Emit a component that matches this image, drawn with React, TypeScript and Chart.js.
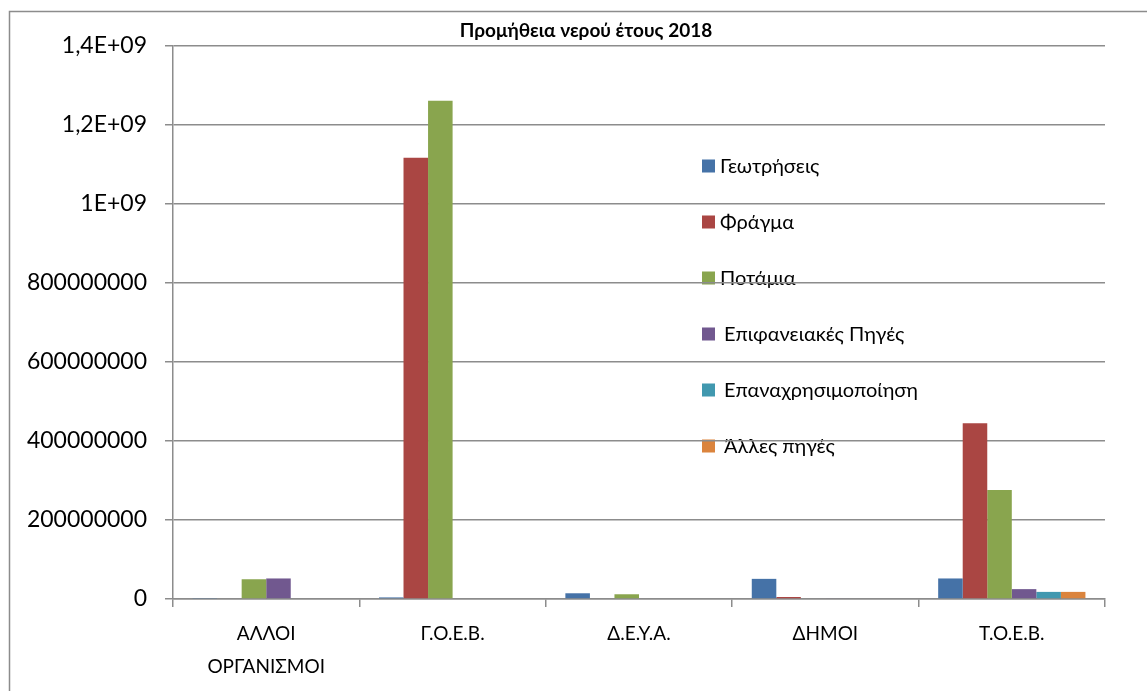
import React, { useEffect, useRef } from "react";
import { Chart, registerables } from "chart.js";

Chart.register(...registerables);

const title = "Προμήθεια νερού έτους 2018";
const categories: (string | string[])[] = [
  ["ΑΛΛΟΙ", "ΟΡΓΑΝΙΣΜΟΙ"],
  "Γ.Ο.Ε.Β.",
  "Δ.Ε.Υ.Α.",
  "ΔΗΜΟΙ",
  "Τ.Ο.Ε.Β.",
];
const seriesNames = [
  "Γεωτρήσεις",
  "Φράγμα",
  "Ποτάμια",
  "Επιφανειακές Πηγές",
  "Επαναχρησιμοποίηση",
  "Άλλες πηγές",
];
const seriesColors = ["#4572A7", "#AA4643", "#89A54E", "#71588F", "#4198AF", "#DB843D"];

const geotriseis = [2500000, 4000000, 14500000, 51000000, 52000000];
const fragma = [0, 1117000000, 0, 5000000, 445000000];
const potamia = [50000000, 1261500000, 12000000, 0, 276000000];
const epifaneiakes = [52000000, 0, 0, 2000000, 25000000];
const epanaxrisi = [0, 0, 0, 0, 18000000];
const alles = [0, 0, 0, 0, 18000000];
const seriesValues = [geotriseis, fragma, potamia, epifaneiakes, epanaxrisi, alles];

const yTickValues = [0, 200000000, 400000000, 600000000, 800000000, 1000000000, 1200000000, 1400000000];
const yTickLabels = ["0", "200000000", "400000000", "600000000", "800000000", "1E+09", "1,2E+09", "1,4E+09"];

const FONT = "Lato, 'Noto Sans', sans-serif";
const GRID = "#8c8c8c";

const decorPlugin = {
  id: "decor",
  beforeDraw(chart: any) {
    const ctx = chart.ctx as CanvasRenderingContext2D;
    ctx.save();
    // outer frame
    ctx.strokeStyle = GRID;
    ctx.lineWidth = 1.5;
    ctx.strokeRect(9.5, 11.5, 1200, 800);
    // title
    ctx.fillStyle = "#000";
    ctx.font = `bold 19px ${FONT}`;
    ctx.textAlign = "center";
    ctx.textBaseline = "alphabetic";
    ctx.fillText(title, 586, 36.5);
    // legend
    const ds = chart.data.datasets;
    ctx.font = `20px ${FONT}`;
    ctx.textAlign = "left";
    ctx.textBaseline = "middle";
    for (let i = 0; i < ds.length; i++) {
      const cy = 166 + i * 56;
      ctx.fillStyle = ds[i].backgroundColor;
      ctx.fillRect(702, cy - 6.5, 13, 13);
      ctx.fillStyle = "#000";
      ctx.fillText(ds[i].label, i < 3 ? 720 : 724, cy + 1);
    }
    ctx.restore();
  },
};

export default function App() {
  const ref = useRef<HTMLCanvasElement | null>(null);
  useEffect(() => {
    if (!ref.current) return;
    const chart = new Chart(ref.current, {
      type: "bar",
      data: {
        labels: categories,
        datasets: seriesNames.map((name, i) => ({
          label: name,
          data: seriesValues[i],
          backgroundColor: seriesColors[i],
          borderWidth: 0,
          categoryPercentage: 0.79,
          barPercentage: 1,
        })),
      },
      options: {
        animation: false,
        responsive: false,
        devicePixelRatio: 1,
        layout: { padding: { top: 46, right: 42, left: 0, bottom: 0 } },
        plugins: {
          legend: { display: false },
          title: { display: false },
          tooltip: { enabled: false },
        },
        scales: {
          x: {
            grid: {
              display: true,
              drawOnChartArea: false,
              drawTicks: true,
              tickLength: 8,
              color: GRID,
              lineWidth: 1.5,
              offset: true,
            },
            border: { display: true, color: GRID, width: 1.5 },
            ticks: {
              color: "#000",
              font: { family: FONT, size: 19, lineHeight: 1.75 },
              padding: 10,
              maxRotation: 0,
              autoSkip: false,
            },
            afterFit(scale: any) {
              scale.height = 92;
            },
          },
          y: {
            min: 0,
            max: 1400000000,
            afterBuildTicks(scale: any) {
              scale.ticks = yTickValues.map((v) => ({ value: v }));
            },
            grid: {
              color: GRID,
              lineWidth: 1.5,
              drawTicks: true,
              tickLength: 8,
            },
            border: { display: true, color: GRID, width: 1.5 },
            ticks: {
              color: "#000",
              font: { family: FONT, size: 23 },
              padding: 18,
              callback: (_v: any, idx: number) => yTickLabels[idx],
            },
            afterFit(scale: any) {
              scale.width = 173;
            },
          },
        },
      },
      plugins: [decorPlugin],
    });
    return () => chart.destroy();
  }, []);
  return (
    <div style={{ position: "absolute", left: 0, top: 0, width: 1147, height: 691, background: "#fff", overflow: "hidden" }}>
      <canvas ref={ref} width={1147} height={691} style={{ width: 1147, height: 691, display: "block" }} />
    </div>
  );
}
